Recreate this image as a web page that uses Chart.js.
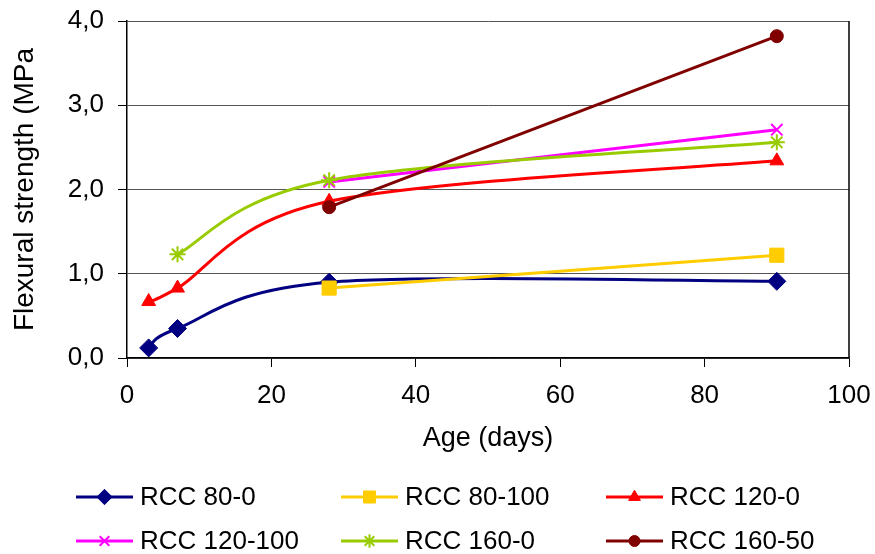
<!DOCTYPE html>
<html>
<head>
<meta charset="utf-8">
<script src="https://cdn.jsdelivr.net/npm/chart.js@4/dist/chart.umd.min.js"></script>
<style>
  html, body { margin: 0; padding: 0; background: #fff; }
  #wrap { width: 875px; height: 554px; }
</style>
</head>
<body>
<div id="wrap"><canvas id="flex" width="875" height="554"></canvas></div>
<script>
// age in days at which each mix was tested
var days = [3, 7, 28, 90];

// flexural strength (MPa), null = not tested
var rcc80_0 = [0.12, 0.35, 0.90, 0.91];
var rcc80_100 = [null, null, 0.83, 1.22];
var rcc120_0 = [0.67, 0.83, 1.86, 2.34];
var rcc120_100 = [null, null, 2.09, 2.71];
var rcc160_0 = [null, 1.23, 2.11, 2.56];
var rcc160_50 = [null, null, 1.79, 3.82];

var seriesNames = ['RCC 80-0', 'RCC 80-100', 'RCC 120-0', 'RCC 120-100', 'RCC 160-0', 'RCC 160-50'];

var xTicks = [0, 20, 40, 60, 80, 100];
var yTicks = [0, 1, 2, 3, 4];

var COLORS = {
  NAVY: '#000080',
  YELLOW: '#FFCC00',
  RED: '#FF0000',
  MAGENTA: '#FF00FF',
  GREEN: '#99CC00',
  MAROON: '#800000',
};

var FONT = "'Liberation Sans', Arial, sans-serif";

function _points(vals) {
  var out = [];
  vals.forEach(function (v, i) {
    if (v != null) out.push({ x: days[i], y: v });
  });
  return out;
}

function _series(i, vals, color, style, radius, filled) {
  return {
    label: seriesNames[i],
    data: _points(vals),
    borderColor: color,
    backgroundColor: color,
    borderWidth: 3,
    tension: 0.3,
    pointStyle: style,
    pointRadius: radius,
    pointHoverRadius: radius,
    pointBackgroundColor: filled ? color : 'transparent',
    pointBorderColor: color,
    pointBorderWidth: filled ? 1 : 2,
    order: 6 - i,
  };
}

var datasets = [
  _series(0, rcc80_0, COLORS.NAVY, 'rectRot', 9, true),
  _series(1, rcc80_100, COLORS.YELLOW, 'rect', 10, true),
  _series(2, rcc120_0, COLORS.RED, 'triangle', 8, true),
  _series(3, rcc120_100, COLORS.MAGENTA, 'crossRot', 8, false),
  _series(4, rcc160_0, COLORS.GREEN, 'star', 8, false),
  _series(5, rcc160_50, COLORS.MAROON, 'circle', 6.5, true),
];

// excel "smoothed line": bezier handles = (next - prev) / 6, in pixel space
var excelSmooth = {
  id: 'excelSmooth',
  beforeDatasetsDraw: function (chart) {
    chart.getSortedVisibleDatasetMetas().forEach(function (meta) {
      var pts = meta.data;
      var n = pts.length;
      pts.forEach(function (p, i) {
        var prev = pts[Math.max(i - 1, 0)];
        var next = pts[Math.min(i + 1, n - 1)];
        var dx = (next.x - prev.x) / 6;
        var dy = (next.y - prev.y) / 6;
        p.cp1x = p.x - dx;
        p.cp1y = p.y - dy;
        p.cp2x = p.x + dx;
        p.cp2y = p.y + dy;
      });
      if (meta.dataset) meta.dataset._pointsUpdated = true;
    });
  },
};

// excel-style legend: 3 columns x 2 rows under the plot
var legendCols = [76, 341, 606];
var legendRows = [497, 541];

var xlLegend = {
  id: 'xlLegend',
  afterDraw: function (chart) {
    var ctx = chart.ctx;
    var area = chart.chartArea;
    ctx.save();
    // plot area right border
    ctx.strokeStyle = '#000';
    ctx.lineWidth = 1.5;
    ctx.beginPath();
    ctx.moveTo(area.right, area.top);
    ctx.lineTo(area.right, area.bottom);
    ctx.stroke();

    chart.data.datasets.forEach(function (ds, i) {
      var x0 = legendCols[i % 3];
      var y0 = legendRows[Math.floor(i / 3)];
      ctx.strokeStyle = ds.borderColor;
      ctx.lineWidth = ds.borderWidth;
      ctx.beginPath();
      ctx.moveTo(x0, y0);
      ctx.lineTo(x0 + 57, y0);
      ctx.stroke();
      ctx.fillStyle = ds.pointBackgroundColor;
      ctx.strokeStyle = ds.pointBorderColor;
      ctx.lineWidth = ds.pointBorderWidth;
      if (Chart.helpers && Chart.helpers.drawPoint) {
        Chart.helpers.drawPoint(ctx, {
          pointStyle: ds.pointStyle,
          radius: ds.pointRadius * 0.85,
          rotation: 0,
          borderWidth: ds.pointBorderWidth,
        }, x0 + 28.5, y0);
      }
      ctx.fillStyle = '#000';
      ctx.font = '26px ' + FONT;
      ctx.textBaseline = 'middle';
      ctx.textAlign = 'left';
      ctx.fillText(ds.label, x0 + 64, y0 + 1);
    });
    ctx.restore();
  },
};

var ctx = document.getElementById('flex');
new Chart(ctx, {
  type: 'line',
  data: { datasets: datasets },
  options: {
    responsive: false,
    animation: false,
    layout: { padding: { top: 21, right: 26, bottom: 94, left: 0 } },
    plugins: {
      legend: { display: false },
      tooltip: { enabled: false },
    },
    scales: {
      x: {
        type: 'linear',
        min: 0,
        max: 100,
        afterBuildTicks: function (axis) { axis.ticks = xTicks.map(function (v) { return { value: v }; }); },
        afterFit: function (axis) {
          axis.height = 554 - 358 - 94;
          axis.paddingLeft = 0;
          axis.paddingRight = 0;
        },
        grid: { drawOnChartArea: false, color: '#000', tickLength: 9, lineWidth: 1 },
        border: { color: '#000', width: 1.5 },
        ticks: { color: '#000', padding: 13, maxRotation: 0, font: { size: 26, family: FONT } },
        title: { display: true, text: 'Age (days)', color: '#000', padding: { top: 0, bottom: 5 }, font: { size: 27, family: FONT } },
      },
      y: {
        min: 0,
        max: 4,
        afterBuildTicks: function (axis) { axis.ticks = yTicks.map(function (v) { return { value: v }; }); },
        afterFit: function (axis) {
          axis.width = 127;
          axis.paddingTop = 0;
          axis.paddingBottom = 0;
        },
        grid: { color: '#555', tickColor: '#000', tickLength: 9, lineWidth: 1 },
        border: { color: '#000', width: 1.5 },
        ticks: {
          color: '#000',
          padding: 14,
          font: { size: 26, family: FONT },
          callback: function (v) { return v.toFixed(1).replace('.', ','); },
        },
        title: { display: true, text: 'Flexural strength (MPa', color: '#000', padding: { top: 8, bottom: 0 }, font: { size: 28, family: FONT } },
      },
    },
  },
  plugins: [excelSmooth, xlLegend],
});
</script>
</body>
</html>
